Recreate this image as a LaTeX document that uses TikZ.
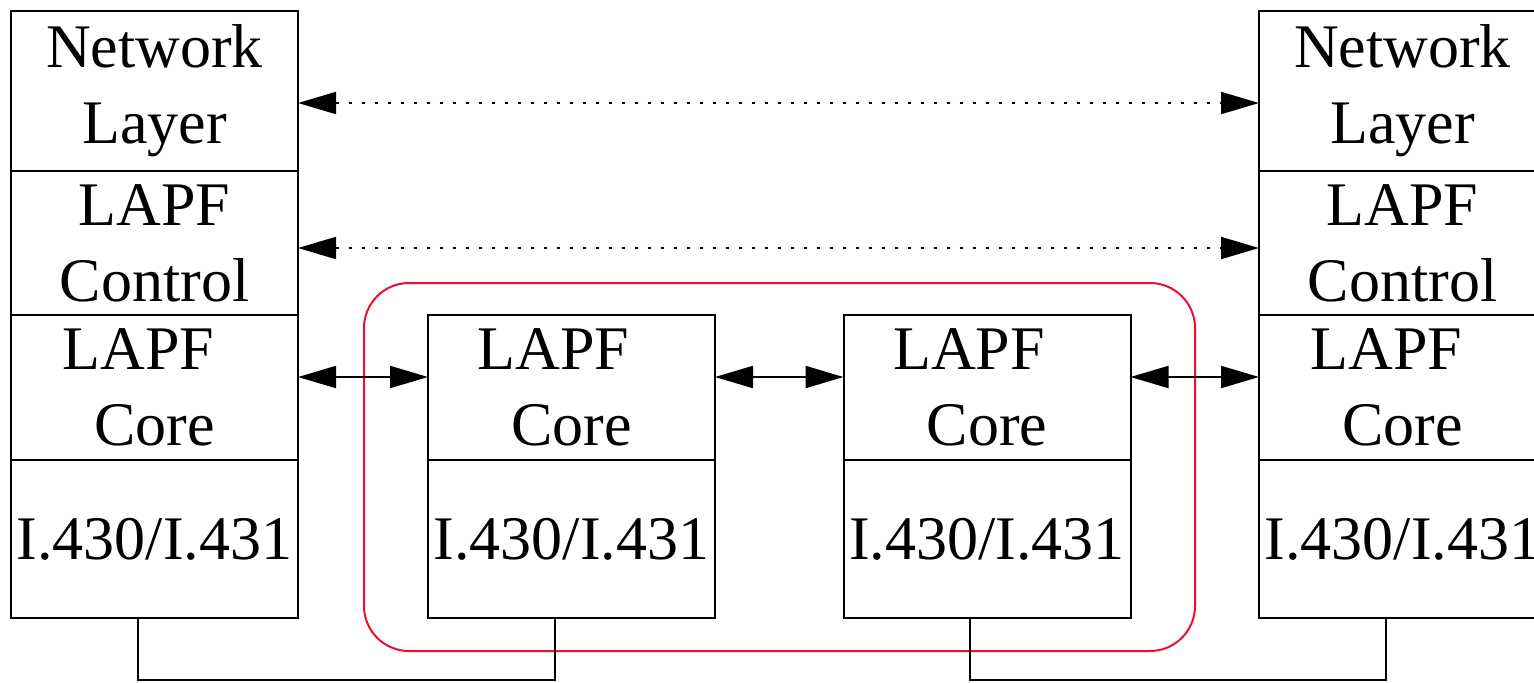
\documentclass[tikz,border=0pt]{standalone}
\usepackage{fontspec}
\setmainfont{Liberation Serif}
\usetikzlibrary{arrows.meta,calc}
\definecolor{boxred}{RGB}{232,16,46}
\begin{document}
\begin{tikzpicture}[x=0.5pt,y=-0.5pt,
  cell/.style={draw=black,line width=1pt,minimum width=143.5pt,inner sep=0pt,outer sep=0pt,
    align=center,font=\fontsize{31}{38}\selectfont},
  h1/.style={minimum height=80pt},
  h2/.style={minimum height=72pt},
  h3/.style={minimum height=72.5pt},
  h4/.style={minimum height=79pt},
  tip/.style={Triangle[length=19pt,width=11pt]},
  dotarrow/.style={{Triangle[length=19pt,width=11pt]}-{Triangle[length=19pt,width=11pt]},line width=1pt,dash pattern=on 1.5pt off 5pt},
  solarrow/.style={{Triangle[length=19pt,width=11pt]}-{Triangle[length=19pt,width=11pt]},line width=1pt},
  wire/.style={line width=1pt}]
\useasboundingbox (0,0) rectangle (1534,682);
\clip (0,0) rectangle (1534,682);
% red grouping
\draw[boxred,line width=1pt,rounded corners=22.5pt] (364,283) rectangle (1195,651);
% left stack
\node[cell,h1] (NLL) at (154.5,91) {Network\\Layer};
\node[cell,h2] (CTL) at (154.5,243) {LAPF\\Control};
\node[cell,h3] (COL) at (154.5,387.5) {LAPF\hspace*{16pt}\\Core};
\node[cell,h4] (PHL) at (154.5,539) {I.430/I.431};
% middle 1
\node[cell,h3] (CO1) at (571.5,387.5) {LAPF\hspace*{18pt}\\Core};
\node[cell,h4] (PH1) at (571.5,539) {I.430/I.431};
% middle 2
\node[cell,h3] (CO2) at (987,387.5) {LAPF\hspace*{18pt}\\Core};
\node[cell,h4] (PH2) at (987,539) {I.430/I.431};
% right stack
\node[cell,h1] (NLR) at (1402.5,91) {Network\\Layer};
\node[cell,h2] (CTR) at (1402.5,243) {LAPF\\Control};
\node[cell,h3] (COR) at (1402.5,387.5) {LAPF\hspace*{16pt}\\Core};
\node[cell,h4] (PHR) at (1402.5,539) {I.430/I.431};
% peer arrows
\draw[dotarrow] ([yshift=-6pt]NLL.east) -- ([yshift=-6pt]NLR.west);
\draw[dotarrow] ([yshift=-2.5pt]CTL.east) -- ([yshift=-2.5pt]CTR.west);
\draw[solarrow] ([yshift=5.25pt]COL.east) -- ([yshift=5.25pt]CO1.west);
\draw[solarrow] ([yshift=5.25pt]CO1.east) -- ([yshift=5.25pt]CO2.west);
\draw[solarrow] ([yshift=5.25pt]CO2.east) -- ([yshift=5.25pt]COR.west);
% physical links
\coordinate (bot) at (0,680);
\coordinate (b0) at ([xshift=-8.5pt]PHL.south);
\coordinate (b1) at ([xshift=-8.5pt]PH1.south);
\coordinate (b2) at ([xshift=-8.5pt]PH2.south);
\coordinate (b3) at ([xshift=-8.5pt]PHR.south);
\draw[wire] (b0) -- (b0 |- bot) -| (b1);
\draw[wire] (b2) -- (b2 |- bot) -| (b3);
\end{tikzpicture}
\end{document}
